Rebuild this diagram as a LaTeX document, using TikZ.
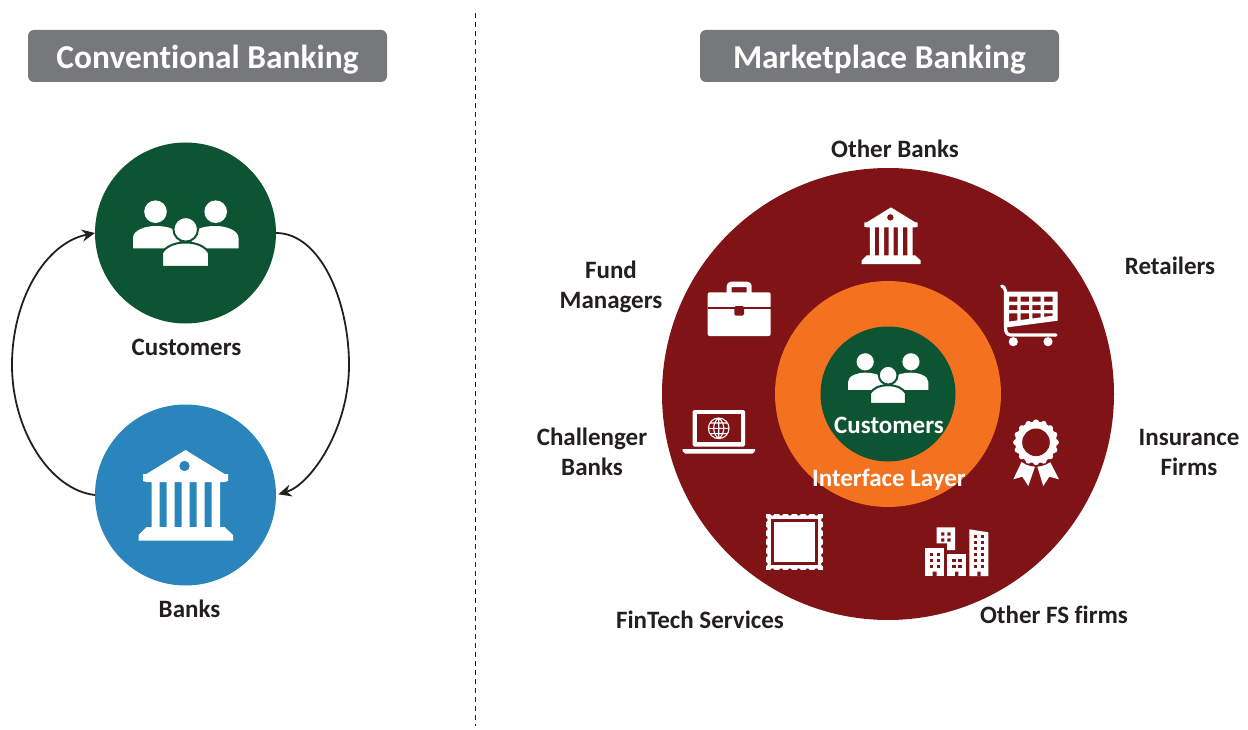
\documentclass[tikz,border=0pt]{standalone}
\usepackage{fontspec}
\setmainfont[Ligatures=NoCommon]{Carlito}
\usetikzlibrary{arrows.meta}
\definecolor{cgreen}{HTML}{0D5432}
\definecolor{cblue}{HTML}{2A85BC}
\definecolor{cmaroon}{HTML}{7F1315}
\definecolor{corange}{HTML}{F47120}
\definecolor{cgray}{HTML}{77787B}
\definecolor{ctext}{HTML}{231F20}
\tikzset{
  disc/.style={circle,inner sep=0pt,outer sep=0pt,minimum size=#1},
  titlebox/.style={rectangle,rounded corners=6pt,fill=cgray,minimum width=359pt,minimum height=52pt,inner sep=0pt},
  titletext/.style={text=white,inner sep=0pt,font=\bfseries\fontsize{33.4}{36}\selectfont},
  lab/.style={text=ctext,font=\bfseries\fontsize{25}{30}\selectfont,align=center,inner sep=0pt},
  inlab/.style={text=white,font=\bfseries\fontsize{25}{30}\selectfont,inner sep=0pt},
  flow/.style={ctext,line width=1.8pt,-{Stealth[length=13pt,width=12pt]}},
  people/.pic={
    \fill[white] (-30,-21.3) circle (11.3) (30.2,-21.3) circle (11.3);
    \fill[white] (-52.5,15.5) -- (-52.5,5) .. controls (-52.5,-3) and (-40,-7) .. (-30,-7) .. controls (-20,-7) and (-10,-5) .. (-6,2) -- (-6,15.5) -- cycle;
    \fill[white] (53,15.5) -- (53,5) .. controls (53,-3) and (40,-7) .. (30,-7) .. controls (20,-7) and (10,-5) .. (6,2) -- (6,15.5) -- cycle;
    \filldraw[white,draw=#1,line width=2pt] (0.2,-3.7) circle (12.3);
    \filldraw[white,draw=#1,line width=2pt] (-23.5,34) -- (-23.5,20) .. controls (-20,14) and (-12,9.5) .. (0.2,9.5) .. controls (12,9.5) and (20,14) .. (23.5,20) -- (23.5,34) -- cycle;
  },
  bankicon/.pic={
    \fill[white,even odd rule] (0,-45) -- (39,-21) -- (42.5,-21) -- (42.5,-14) -- (39,-13) -- (34.5,-13) -- (34.5,32) -- (39,32) -- (47.5,40) -- (47.5,45.7) -- (-47,45.7) -- (-47,40) -- (-39,32) -- (-34,32) -- (-34,-13) -- (-39,-13) -- (-42.5,-14) -- (-42.5,-21) -- (-39,-21) -- cycle
      (-26,-13) rectangle (-19,32) (-11,-13) rectangle (-4,32) (4,-13) rectangle (11,32) (19,-13) rectangle (26,32)
      (-1,-29) circle (5.3);
  }
}
\begin{document}
\begin{tikzpicture}[x=1pt,y=-1pt]
\useasboundingbox (0,0) rectangle (1248,730);
% divider
\coordinate (dtop) at (475,13);
\coordinate (dbot) at (475,726);
\draw[ctext,line width=1pt,dash pattern=on 5pt off 4pt] (dtop) -- (dbot);
% titles
\node[titlebox] (b1) at (207.5,56) {};
\node[titlebox] (b2) at (879.5,56) {};
\node[titletext] (t1) at (207.5,60) {Conventional Banking};
\node[titletext] (t2) at (879.5,60) {Marketplace Banking};
% left
\node[disc=181pt,fill=cgreen] (cust) at (185.5,233) {};
\node[disc=181pt,fill=cblue] (bank) at (185.5,495) {};
\pic at (185.5,233) {people=cgreen};
\pic at (185.5,495) {bankicon};
\node[lab] (custl) at (186.5,347.3) {Customers};
\node[lab] (bankl) at (189.5,609.3) {Banks};
\coordinate (lm) at (12,365);
\coordinate (rm) at (349,365);
\draw[flow] (bank.west) .. controls (50,490) and (12,430) .. (lm) .. controls (12,300) and (45,243) .. (cust.west);
\draw[flow,shorten >=2.5pt] (cust.east) .. controls (320,233) and (349,300) .. (rm) .. controls (349,430) and (310,485) .. (bank.east);
% right rings
\node[disc=452pt,fill=cmaroon] (ring) at (888,394) {};
\node[disc=226pt,fill=corange] (iface) at (888,394) {};
\node[disc=135pt,fill=cgreen] (core) at (888,394) {};
\pic[scale=0.76] at (888,378) {people=cgreen};
\node[inlab] (corel) at (889,425.5) {Customers};
\node[inlab] (ifacel) at (889,479.5) {Interface Layer};
% outer labels
\node[lab] (l1) at (895,148.8) {Other Banks};
\node[lab] (l2) at (1170,265.8) {Retailers};
\node[lab] (l3) at (1189,452.3) {Insurance\\Firms};
\node[lab] (l4) at (1054,614.8) {Other FS firms};
\node[lab] (l5) at (700,619.8) {FinTech Services};
\node[lab] (l6) at (592,451.8) {Challenger\\Banks};
\node[lab] (l7) at (611,286.5) {Fund\\Managers};
% bank
\pic[scale=0.625] at (891,235.5) {bankicon};
% briefcase
\fill[white,even odd rule] (726.7,293) -- (726.7,286) arc[start angle=180,end angle=270,radius=4.3] -- (747.4,281.7) arc[start angle=270,end angle=360,radius=4.3] -- (751.7,293) -- (746.7,293) -- (746.7,287) -- (731.7,287) -- (731.7,293) -- cycle;
\fill[white,rounded corners=2pt] (707.7,292.3) rectangle (770.7,336);
\fill[cmaroon] (707.7,306.7) rectangle (770.7,309.3);
\fill[cmaroon,rounded corners=1.5pt] (734.3,306) rectangle (744,315.7);
% cart
\draw[white,line width=3.2pt,line cap=round,line join=round] (1001.7,286) -- (1004,287.5) -- (1005.5,291) -- (1005.5,328) .. controls (1005.5,332) and (1007,335) .. (1011,335) -- (1056,335);
\fill[white,even odd rule] (1005,291.5) -- (1057.7,291.5) -- (1057.7,320.7) -- (1006,327.5) -- cycle
 (1009,296.7) rectangle (1017.3,301.7) (1020.7,296.7) rectangle (1029,301.7) (1032.3,296.7) rectangle (1040.7,301.7) (1044,296.7) rectangle (1052.7,301.7)
 (1009,305) rectangle (1017.3,310) (1020.7,305) rectangle (1029,310) (1032.3,305) rectangle (1040.7,310) (1044,305) rectangle (1052.7,310)
 (1009,313.3) -- (1017.3,313.3) -- (1017.3,320.4) -- (1009,321.6) -- cycle
 (1020.7,313.3) -- (1029,313.3) -- (1029,318.9) -- (1020.7,320) -- cycle
 (1032.3,313.3) -- (1040.7,313.3) -- (1040.7,317.4) -- (1032.3,318.5) -- cycle
 (1044,313.3) -- (1052.7,313.3) -- (1052.7,315.7) -- (1044,316.9) -- cycle;
\fill[white] (1013.3,341.7) circle (4.6) (1048,341.7) circle (4.6);
% laptop
\fill[white,rounded corners=1.5pt] (692.7,410) rectangle (745,446.5);
\fill[cmaroon] (696.7,414) rectangle (741,441.7);
\fill[white] (682.7,449) -- (755,449) -- (755,451) -- (752.5,453.5) -- (685,453.5) -- (682.7,451) -- cycle;
\draw[white,line width=1.1pt] (718.7,428.3) circle (10.3) (708.4,428.3) -- (729,428.3) (718.7,418) -- (718.7,438.6) (710,423) -- (727.4,423) (710,433.6) -- (727.4,433.6) (718.7,418) .. controls (712,423) and (712,433.6) .. (718.7,438.6) (718.7,418) .. controls (725.4,423) and (725.4,433.6) .. (718.7,438.6);
% medal
\fill[white] (1021.7,461.7) -- (1013.3,479.3) -- (1022.3,476.7) -- (1028.3,486) -- (1035,466.7) -- cycle;
\fill[white] (1050,461.7) -- (1059,479.3) -- (1049.3,476.7) -- (1043.3,486) -- (1037.3,466.7) -- cycle;
\fill[cmaroon] (1036,442.3) circle (24.3);
\fill[white] (1036,442.3) circle (20.8);
\foreach \a in {0,22.5,...,337.5} \fill[white] (1036,442.3) ++(\a:19.8) circle (3.1);
\fill[cmaroon] (1036,442.3) circle (13.8);
% stamp
\fill[white] (766,514) rectangle (822.7,570);
\foreach \i in {0,...,5} {
  \fill[cmaroon] (772.3+8.8*\i,513.5) circle (2.1) (772.3+8.8*\i,570.5) circle (2.1);
  \fill[cmaroon] (765.5,520+8.8*\i) circle (2.1) (823.2,520+8.8*\i) circle (2.1);
}
\fill[cmaroon] (770.7,519) rectangle (818.3,565);
\fill[white] (774,522.3) rectangle (814.5,562);
% buildings
\fill[white,even odd rule] (936.7,527.3) -- (955,527.3) -- (955,550) -- (947,550) -- (947,543.3) -- (936.7,543.3) -- cycle
  (941,532.3) rectangle (944.3,535.7) (947.3,532.3) rectangle (950.7,535.7) (941,538.3) rectangle (944.3,541.7) (947.3,538.3) rectangle (950.7,541.7);
\fill[white] (925,548.3) rectangle (944.3,576);
\fill[white] (947.3,554.3) rectangle (966,576);
\fill[white] (969.3,529.3) -- (988.3,532.3) -- (988.3,576) -- (969.3,576) -- cycle;
\fill[cmaroon] (932.7,571.7) rectangle (936.7,576) (955,571.7) rectangle (958.3,576) (977.3,571.7) rectangle (980.7,576);
\foreach \wx in {930,936.7} \foreach \wy in {552.7,559,565} \fill[cmaroon] (\wx,\wy) rectangle (\wx+3.3,\wy+3.3);
\foreach \wx in {952.3,958.3} \foreach \wy in {559,565} \fill[cmaroon] (\wx,\wy) rectangle (\wx+3.3,\wy+3.3);
\foreach \wx in {974,980.7} \foreach \wy in {535,540.7,546.7,552.7,559,565} \fill[cmaroon] (\wx,\wy) rectangle (\wx+3.3,\wy+3.3);
\end{tikzpicture}
\end{document}
